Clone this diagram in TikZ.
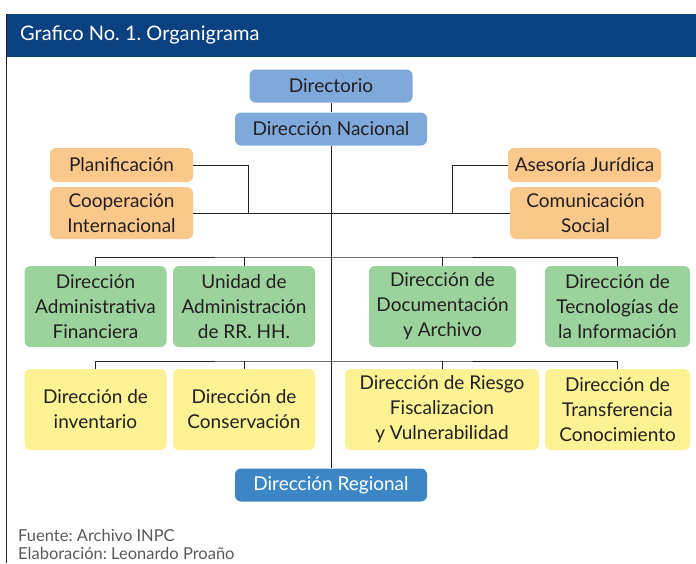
\documentclass[tikz,border=0pt]{standalone}
\usepackage{fontspec}
\setmainfont{Lato}
\usepackage{tikz}
\usetikzlibrary{positioning}

\definecolor{cabecera}{HTML}{0A4281}
\definecolor{azulclaro}{HTML}{7FA9DB}
\definecolor{azulmedio}{HTML}{3C86C6}
\definecolor{naranja}{HTML}{FBC88C}
\definecolor{verde}{HTML}{9CD39C}
\definecolor{amarillo}{HTML}{FCF293}
\definecolor{texto}{HTML}{231F20}

\frenchspacing
\begin{document}
\begin{tikzpicture}[
        x=1pt, y=-1pt,
        every node/.style={rounded corners=6pt, align=center, text=texto,
            font=\fontsize{19}{25}\selectfont, inner sep=2pt},
        linea/.style={line width=1pt, draw=texto},
        mando/.style={fill=azulclaro, minimum height=33pt},
        asesor/.style={fill=naranja, minimum width=143pt},
        direccion/.style={fill=verde, minimum width=142pt, minimum height=81pt},
        operativa/.style={fill=amarillo, minimum width=142pt, minimum height=81pt}
    ]

    \useasboundingbox (0,0) rectangle (696,563);

    % Frame
    \fill[cabecera] (6,14) rectangle (696,57);
    \draw[linea] (6,14) -- (6,563);
    \node[text=white, anchor=west, font=\fontsize{20}{22}\selectfont] (titulo) at (18,35) {Grafico No. 1. Organigrama};

    % Nodes
    \node[mando, minimum width=163pt] (dir) at (331,86) {Directorio};
    \node[mando, minimum width=192pt] (nac) at (331,129) {Dirección Nacional};

    \node[asesor, minimum height=34pt] (plan) at (121.5,165) {Planificación};
    \node[asesor, minimum height=52pt] (coop) at (121.5,213) {Cooperación\\Internacional};
    \node[asesor, minimum width=153pt, minimum height=34pt] (ases) at (584.5,165) {Asesoría Jurídica};
    \node[asesor, minimum width=151pt, minimum height=52pt] (com) at (585.5,213) {Comunicación\\Social};

    \node[direccion] (adm) at (95.5,306.5) {Dirección\\Administrativa\\Financiera};
    \node[direccion] (uni) at (244,306.5) {Unidad de\\Administración\\de RR. HH.};
    \node[direccion, minimum width=147pt] (doc) at (442.5,306.5) {Dirección de\\Documentación\\y Archivo};
    \node[direccion, minimum width=145pt] (tec) at (617.5,306.5) {Dirección de\\Tecnologías de\\la Información};

    \node[operativa] (inv) at (95.5,409.5) {Dirección de\\inventario};
    \node[operativa] (con) at (244,409.5) {Dirección de\\Conservación};
    \node[operativa, minimum width=194pt] (rie) at (442,409.5) {Dirección de Riesgo\\Fiscalizacion\\y Vulnerabilidad};
    \node[operativa, minimum width=145pt] (tra) at (617.5,409.5) {Dirección de\\Transferencia\\Conocimiento};

    \node[mando, fill=azulmedio, text=white, minimum width=192pt] (reg) at (331,485) {Dirección Regional};

    \node[anchor=west, text=black!65, font=\fontsize{16.5}{18}\selectfont, inner sep=0pt] (fuente) at (18,535) {Fuente: Archivo INPC};
    \node[anchor=west, text=black!65, font=\fontsize{16.5}{18}\selectfont, inner sep=0pt] (elab) at (18,553) {Elaboración: Leonardo Proaño};

    % Lines
    \coordinate (pj) at (248,213);
    \coordinate (aj) at (452,213);
    \coordinate (bus1) at (331,257);
    \coordinate (bus2) at (331,361);

    \draw[linea] (dir) -- (nac);
    \draw[linea] (nac.south) -- (reg.north);
    \draw[linea] (coop.east) -- (com.west);
    \draw[linea] (plan.east) -| (pj);
    \draw[linea] (ases.west) -| (aj);

    \draw[linea] (adm.north) |- (bus1) -| (tec.north);
    \draw[linea] (uni.north) -- (uni.north |- bus1);
    \draw[linea] (doc.north) -- (doc.north |- bus1);

    \draw[linea] (inv.north) |- (bus2) -| (tra.north);
    \draw[linea] (con.north) -- (con.north |- bus2);
    \draw[linea] (rie.north) -- (rie.north |- bus2);

\end{tikzpicture}
\end{document}
